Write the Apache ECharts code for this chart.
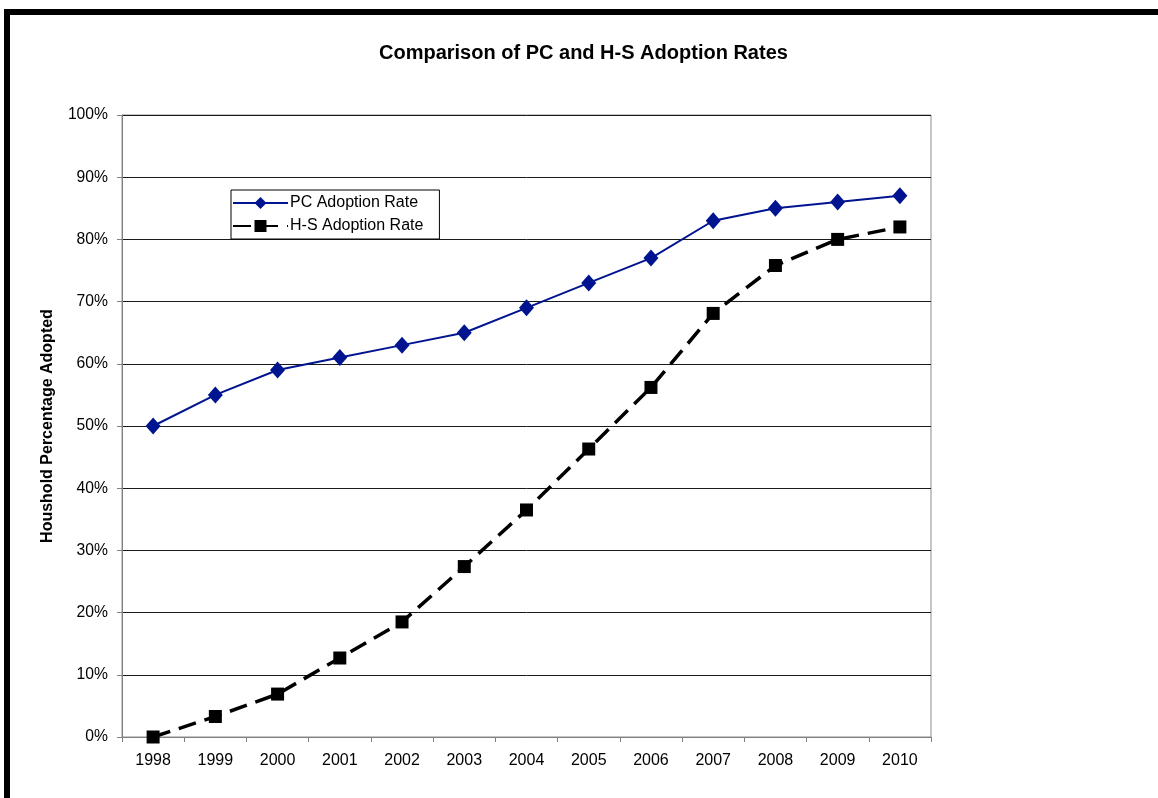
<!DOCTYPE html>
<html>
<head>
<meta charset="utf-8">
<script src="https://cdn.jsdelivr.net/npm/echarts@6/dist/echarts.min.js"></script>
<style>
  html, body { margin: 0; padding: 0; background: #fff; }
  #chart { width: 1158px; height: 798px; }
</style>
</head>
<body>
<div id="chart"></div>
<script>
// Years on the category axis
const years = ['1998', '1999', '2000', '2001', '2002', '2003', '2004', '2005', '2006', '2007', '2008', '2009', '2010'];
// Household adoption, percent
const pcAdoption = [50, 55, 59, 61, 63, 65, 69, 73, 77, 83, 85, 86, 87];
const hsAdoption = [0, 3.3, 6.9, 12.7, 18.5, 27.4, 36.5, 46.3, 56.2, 68.1, 75.8, 80, 82];
// Value axis range and step, percent
const yMin = 0, yMax = 100, yStep = 10;

const FONT = '"Liberation Sans", Arial, sans-serif';
const chart = echarts.init(document.getElementById('chart'), null, { renderer: 'canvas' });

chart.setOption({
  backgroundColor: '#ffffff',
  animation: false,
  textStyle: { fontFamily: FONT },
  title: {
    text: 'Comparison of PC and H-S Adoption Rates',
    left: 374,
    top: 38,
    textStyle: { fontFamily: FONT, fontSize: 20, fontWeight: 'bold', color: '#000' }
  },
  graphic: [
    // heavy frame along the top and left edges
    { type: 'rect', left: 4, top: 9, shape: { width: 1154, height: 6 }, style: { fill: '#000' }, silent: true },
    { type: 'rect', left: 4, top: 9, shape: { width: 6, height: 789 }, style: { fill: '#000' }, silent: true }
  ],
  grid: {
    left: 122, right: 227, top: 115, bottom: 61,
    show: true, borderColor: '#8c8c8c', borderWidth: 1, backgroundColor: '#fff'
  },
  legend: {
    orient: 'vertical',
    left: 231, top: 190,
    backgroundColor: '#fff',
    borderColor: '#000', borderWidth: 1,
    padding: [5, 16, 5, 1],
    itemGap: 7,
    itemWidth: 55, itemHeight: 15,
    textStyle: { fontFamily: FONT, fontSize: 16, color: '#000', padding: [0, 0, 0, -3] },
    data: ['PC Adoption Rate', 'H-S Adoption Rate']
  },
  xAxis: {
    type: 'category',
    data: years,
    boundaryGap: true,
    axisLine: { lineStyle: { color: '#808080', width: 1 } },
    axisTick: { show: true, length: 5, lineStyle: { color: '#808080' } },
    axisLabel: { fontFamily: FONT, fontSize: 16, color: '#000', margin: 16 },
    splitLine: { show: false }
  },
  yAxis: {
    type: 'value',
    min: yMin, max: yMax, interval: yStep,
    name: 'Houshold Percentage Adopted',
    nameLocation: 'middle',
    nameGap: 66,
    nameTextStyle: { fontFamily: FONT, fontSize: 16, fontWeight: 'bold', color: '#000' },
    axisLine: { show: true, lineStyle: { color: '#808080', width: 1 } },
    axisTick: { show: true, length: 5, lineStyle: { color: '#808080' } },
    axisLabel: { fontFamily: FONT, fontSize: 15.7, color: '#000', margin: 14, formatter: v => v + '%' },
    splitLine: { show: true, lineStyle: { color: '#1a1a1a', width: 1 } }
  },
  series: [
    {
      name: 'PC Adoption Rate',
      type: 'line',
      data: pcAdoption,
      symbol: 'diamond',
      symbolSize: [15, 17],
      color: '#001490',
      lineStyle: { color: '#001490', width: 2 },
      itemStyle: { color: '#001490' },
      z: 3
    },
    {
      name: 'H-S Adoption Rate',
      type: 'line',
      data: hsAdoption,
      symbol: 'rect',
      symbolSize: 13,
      color: '#000',
      lineStyle: { color: '#000', width: 3.5, type: [18, 9] },
      itemStyle: { color: '#000' },
      z: 2
    }
  ]
});
</script>
</body>
</html>
